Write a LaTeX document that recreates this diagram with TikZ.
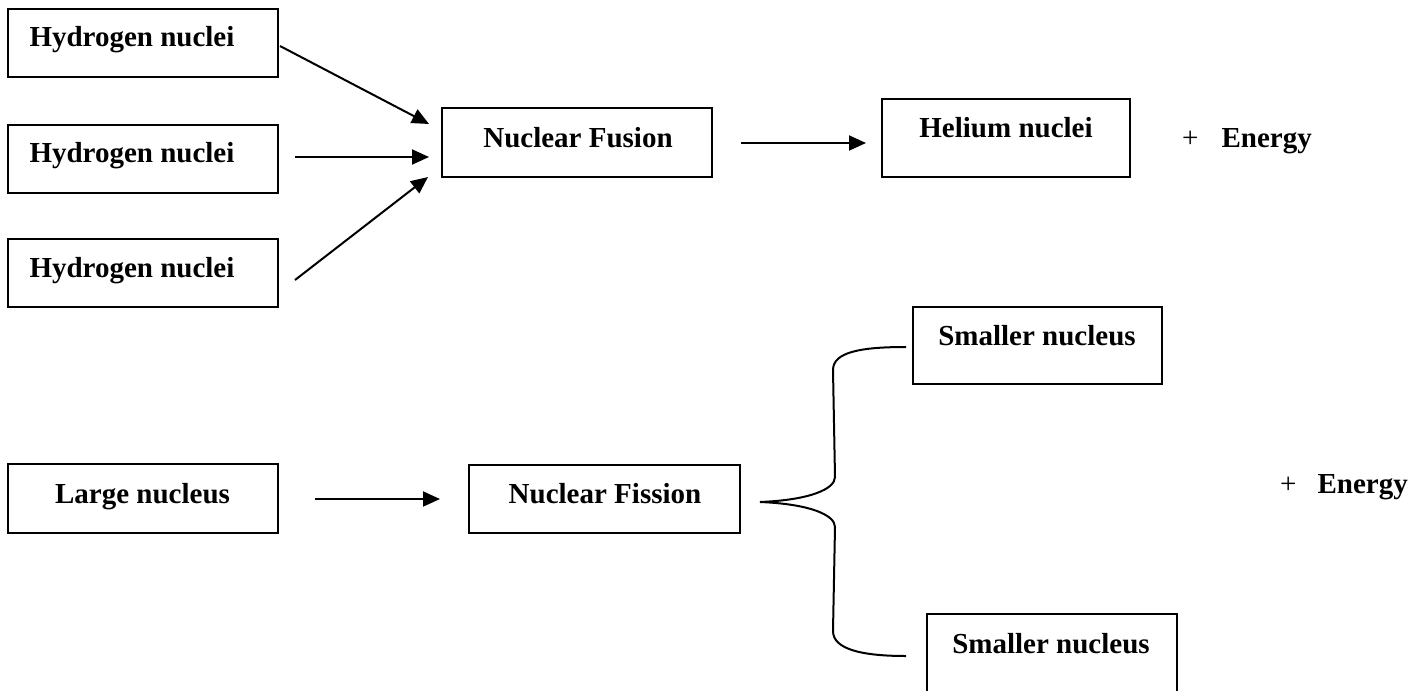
\documentclass[tikz,border=0pt]{standalone}
\usepackage{fontspec}
\setmainfont{Liberation Serif}
\usetikzlibrary{arrows.meta,calc}
\begin{document}
\begin{tikzpicture}[x=1pt,y=-1pt,
  box/.style={draw, line width=2pt, rectangle, inner sep=0pt},
  lbl/.style={anchor=base, inner sep=0pt, font=\fontsize{29}{34}\selectfont\bfseries},
  plus/.style={anchor=base west, inner sep=0pt, font=\fontsize{29}{34}\selectfont},
  arr/.style={line width=2pt, -{Triangle[length=17pt,width=15pt]}},
  brace/.style={line width=2pt}]
\path[use as bounding box, clip] (0,0) rectangle (1425,691);
\fill[white] (0,0) rectangle (1425,691);
% fusion row
\node[box, minimum width=270, minimum height=68] (h1) at (143,43) {};
\node[box, minimum width=270, minimum height=68] (h2) at (143,159) {};
\node[box, minimum width=270, minimum height=68] (h3) at (143,273) {};
\node[box, minimum width=270, minimum height=69] (fusion) at (577,142.5) {};
\node[box, minimum width=248, minimum height=78] (helium) at (1006,138) {};
\node[lbl] (th1) at (132,46.5) {Hydrogen nuclei};
\node[lbl] (th2) at (132,162) {Hydrogen nuclei};
\node[lbl] (th3) at (132,277) {Hydrogen nuclei};
\node[lbl] (tfus) at (578,147) {Nuclear Fusion};
\node[lbl] (thel) at (1006,137) {Helium nuclei};
\node[plus] (e1) at (1182,147) {+\hspace{23pt}\textbf{Energy}};
\draw[arr] ($(h1.east)+(1,3)$) -- ($(fusion.west)+(-12,-18.5)$);
\draw[arr] ($(h2.east)+(16,-2)$) -- ($(fusion.west)+(-12,14.5)$);
\draw[arr] ($(h3.east)+(16,7)$) -- ($(fusion.west)+(-13,34.5)$);
\draw[arr] ($(fusion.east)+(28,0.5)$) -- ($(helium.west)+(-15,5)$);
% fission row
\node[box, minimum width=270, minimum height=69] (large) at (143,498.5) {};
\node[box, minimum width=271, minimum height=68] (fission) at (604.5,499) {};
\node[box, minimum width=249, minimum height=77] (small1) at (1037.5,345.5) {};
\node[box, minimum width=250, minimum height=160] (small2) at (1052,694) {};
\node[lbl] (tlarge) at (142.5,503) {Large nucleus};
\node[lbl] (tfis) at (605,503) {Nuclear Fission};
\node[lbl] (ts1) at (1037,345) {Smaller nucleus};
\node[lbl] (ts2) at (1051,653) {Smaller nucleus};
\node[plus] (e2) at (1280,493) {+\hspace{21pt}\textbf{Energy}};
\draw[arr] ($(large.east)+(36,0.5)$) -- ($(fission.west)+(-28,0)$);
% brace
\coordinate (bt) at ($(fission.east)+(19,3)$);
\coordinate (b1) at ($(small1.west)+(-6,1.5)$);
\coordinate (b2) at ($(small2.north west)+(-20,43)$);
\draw[brace] (bt) .. controls ($(bt)+(50,-2)$) and ($(bt)+(75,-13)$) .. ($(bt)+(75,-25)$)
  -- ($(b1)+(-73,23)$) .. controls ($(b1)+(-73,5)$) and ($(b1)+(-45,0)$) .. (b1);
\draw[brace] (bt) .. controls ($(bt)+(50,2)$) and ($(bt)+(75,13)$) .. ($(bt)+(75,25)$)
  -- ($(b2)+(-73,-25)$) .. controls ($(b2)+(-73,-7)$) and ($(b2)+(-45,0)$) .. (b2);
\end{tikzpicture}
\end{document}
